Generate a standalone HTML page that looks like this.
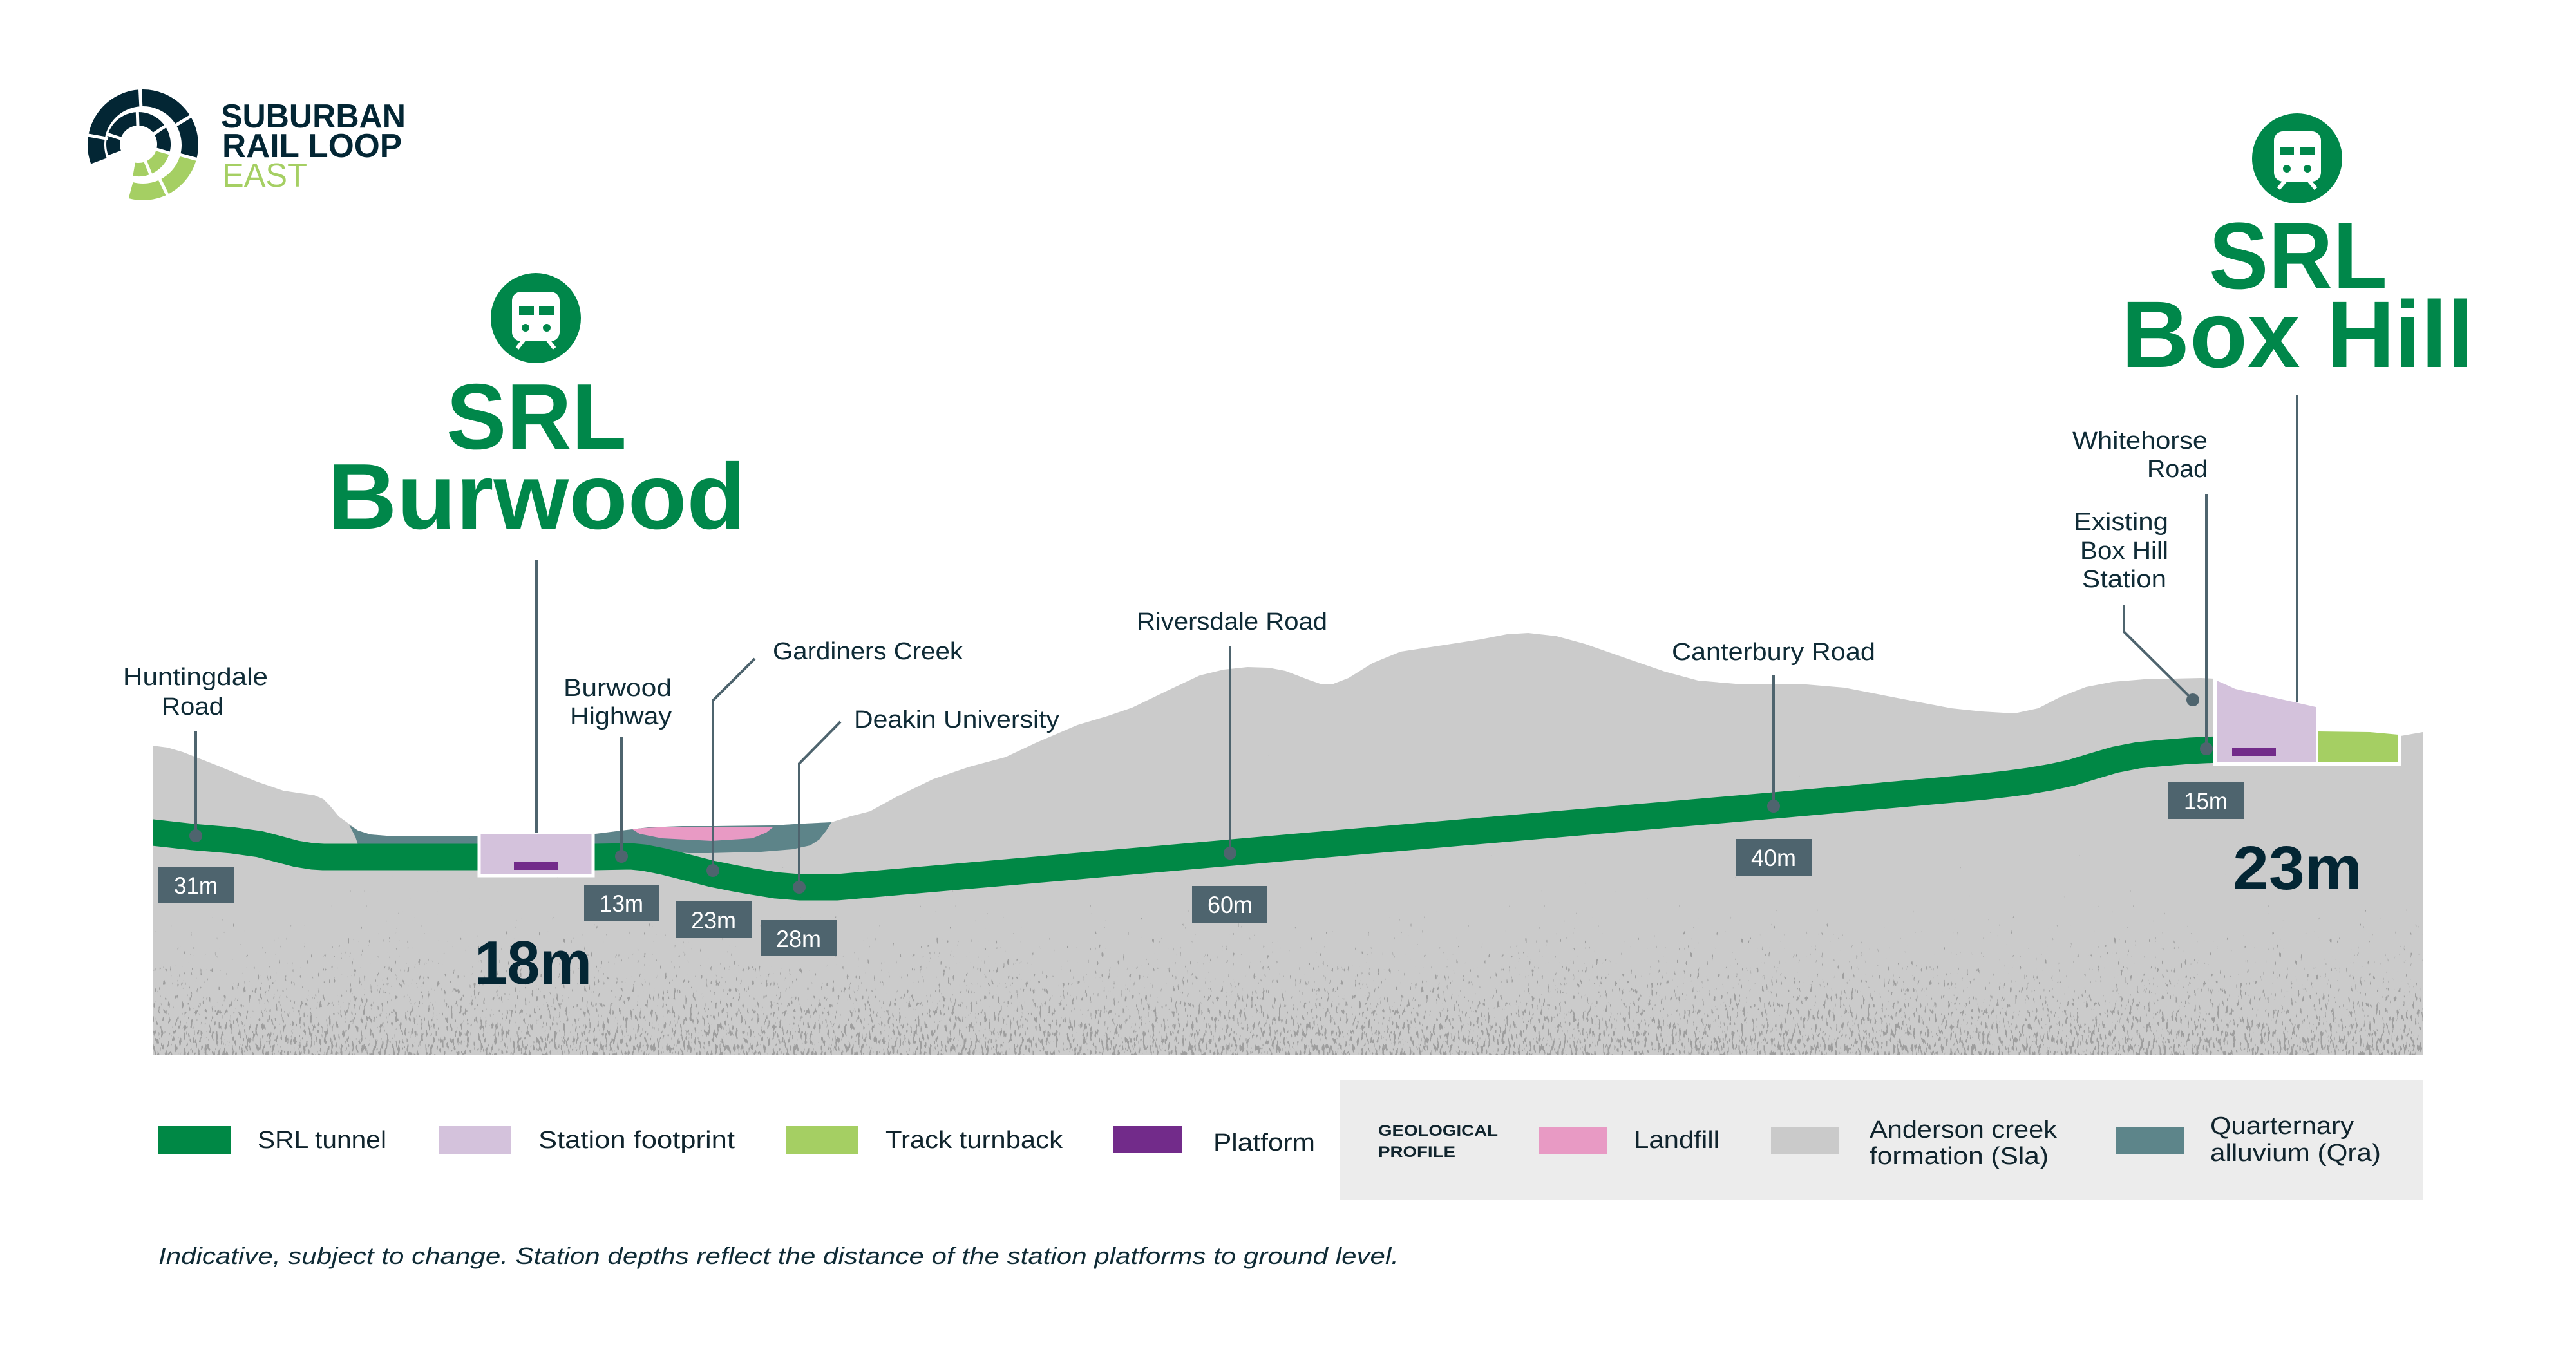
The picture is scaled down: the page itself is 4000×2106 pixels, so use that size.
<!DOCTYPE html>
<html>
<head>
<meta charset="utf-8">
<style>
html,body{margin:0;padding:0;background:#fff;}
svg{display:block;}
</style>
</head>
<body>
<svg width="4000" height="2106" viewBox="0 0 4000 2106" xmlns="http://www.w3.org/2000/svg" font-family="'Liberation Sans', sans-serif">
<defs>
  <clipPath id="terr">
    <path d="M237,1158 L260,1161 L284,1168 L340,1190 L399,1214 L440,1228 L467,1232 L488,1235 L502,1241 L512,1251 L526,1268 L544,1281 L556,1290 L575,1296 L600,1298 L744,1298 L744,1293 L921,1293 L923,1295 L965,1290 L1007,1285 L1060,1283 L1112,1283 L1200,1282 L1250,1279 L1291,1277 L1320,1268 L1351,1260 L1393,1237 L1449,1210 L1505,1191 L1561,1176 L1610,1153 L1673,1126 L1720,1112 L1758,1099 L1814,1072 L1863,1049 L1900,1040 L1937,1036 L1970,1037 L1996,1042 L2030,1055 L2050,1062 L2068,1063 L2094,1053 L2131,1030 L2175,1012 L2241,1002 L2299,993 L2340,985 L2373,983 L2417,988 L2461,1000 L2527,1023 L2585,1043 L2637,1057 L2695,1062 L2805,1063 L2864,1068 L2967,1088 L3030,1100 L3077,1105 L3128,1108 L3165,1100 L3200,1082 L3239,1067 L3280,1059 L3329,1055 L3418,1053 L3438,1054 L3438,1187 L3728,1187 L3728,1143 L3762,1137 L3762,1638 L237,1638 Z"/>
  </clipPath>
  <clipPath id="tunclip"><rect x="237" y="0" width="3201" height="2106"/></clipPath>
  <linearGradient id="sg" x1="0" y1="1340" x2="0" y2="1640" gradientUnits="userSpaceOnUse">
    <stop offset="0" stop-color="#000000"/>
    <stop offset="1" stop-color="#ff0000"/>
  </linearGradient>
  <filter id="spk" filterUnits="userSpaceOnUse" x="237" y="1150" width="3530" height="490" color-interpolation-filters="sRGB">
    <feTurbulence type="fractalNoise" baseFrequency="0.28 0.09" numOctaves="2" seed="7" result="n"/>
    <feColorMatrix in="n" type="matrix" values="1 0 0 0 0  0 0 0 0 0  0 0 0 0 0  0 0 0 0 1" result="nr"/>
    <feComposite in="nr" in2="SourceGraphic" operator="arithmetic" k1="0" k2="1" k3="0.34" k4="0" result="sum"/>
    <feColorMatrix in="sum" type="matrix" values="0 0 0 0 0.62  0 0 0 0 0.62  0 0 0 0 0.62  30 0 0 0 -27"/>
  </filter>
</defs>

<!-- LOGO -->
<g fill="none">
  <path d="M153.4,250 A73,73 0 1 1 292.5,243.9" stroke="#032634" stroke-width="26"/>
  <path d="M292.5,243.9 A73,73 0 0 1 203.1,295.5" stroke="#a5cf63" stroke-width="26"/>
  <path d="M177.9,237.5 A39.5,39.5 0 1 1 253,234.9" stroke="#032634" stroke-width="21"/>
  <path d="M253,234.9 A39.5,39.5 0 0 1 208.1,262.9" stroke="#a5cf63" stroke-width="21"/>
  <g stroke="#ffffff" stroke-width="5">
    <line x1="219.1" y1="170.1" x2="217.2" y2="133.1"/>
    <line x1="269.1" y1="196.7" x2="300.9" y2="177.6"/>
    <line x1="167.8" y1="215.5" x2="131.4" y2="209.0"/>
    <line x1="246.1" y1="274.4" x2="262.3" y2="307.7"/>
    <line x1="275.1" y1="239.2" x2="310.9" y2="248.8"/>
    <line x1="214.1" y1="199.0" x2="213.2" y2="171.0"/>
    <line x1="235.7" y1="210.0" x2="258.9" y2="194.4"/>
    <line x1="191.2" y1="216.3" x2="164.6" y2="207.6"/>
    <line x1="224.4" y1="247.2" x2="234.9" y2="273.1"/>
    <line x1="239.0" y1="230.9" x2="265.9" y2="238.6"/>
  </g>
</g>
<text x="343" y="198" font-size="52" font-weight="bold" fill="#032634" textLength="287" lengthAdjust="spacingAndGlyphs">SUBURBAN</text>
<text x="345" y="244" font-size="52" font-weight="bold" fill="#032634" textLength="279" lengthAdjust="spacingAndGlyphs">RAIL LOOP</text>
<text x="345" y="290" font-size="52" fill="#a5cf63" textLength="132" lengthAdjust="spacingAndGlyphs">EAST</text>

<!-- BURWOOD TITLE -->
<g transform="translate(832,494)">
  <circle r="70" fill="#00874a"/>
  <rect x="-37" y="-41" width="74" height="77" rx="14" fill="#fff"/>
  <rect x="-26" y="-18" width="23" height="13" fill="#00874a"/>
  <rect x="5" y="-18" width="23" height="13" fill="#00874a"/>
  <circle cx="-16" cy="15" r="6" fill="#00874a"/>
  <circle cx="17" cy="15" r="6" fill="#00874a"/>
  <path d="M-18,33 L-29,47 M18,33 L29,47" stroke="#fff" stroke-width="6"/>
</g>
<text x="693" y="697" font-size="145" font-weight="bold" fill="#00874a" textLength="280" lengthAdjust="spacingAndGlyphs">SRL</text>
<text x="508" y="821" font-size="145" font-weight="bold" fill="#00874a" textLength="650" lengthAdjust="spacingAndGlyphs">Burwood</text>

<!-- BOX HILL TITLE -->
<g transform="translate(3567,246)">
  <circle r="70" fill="#00874a"/>
  <rect x="-36" y="-42" width="73" height="78" rx="14" fill="#fff"/>
  <rect x="-27" y="-18" width="22" height="13" fill="#00874a"/>
  <rect x="5" y="-18" width="22" height="13" fill="#00874a"/>
  <circle cx="-16" cy="16" r="6" fill="#00874a"/>
  <circle cx="16" cy="16" r="6" fill="#00874a"/>
  <path d="M-18,34 L-29,47 M18,34 L29,47" stroke="#fff" stroke-width="6"/>
</g>
<text x="3430" y="448" font-size="147" font-weight="bold" fill="#00874a" textLength="277" lengthAdjust="spacingAndGlyphs">SRL</text>
<text x="3294" y="570" font-size="147" font-weight="bold" fill="#00874a" textLength="547" lengthAdjust="spacingAndGlyphs">Box Hill</text>

<!-- TERRAIN -->
<rect x="0" y="900" width="4000" height="800" fill="#cbcbcb" clip-path="url(#terr)"/>
<g clip-path="url(#terr)">
  <rect x="237" y="1150" width="3530" height="490" fill="url(#sg)" filter="url(#spk)"/>
</g>

<!-- Alluvium -->
<path d="M542,1281 L556,1290 L575,1296 L600,1298 L750,1298 L750,1325 L560,1325 L552,1300 Z" fill="#5d8489"/>
<path d="M918,1296 L965,1290 L1007,1285 L1060,1283 L1112,1283 L1200,1282 L1250,1279 L1291,1277 L1283,1290 L1272,1304 L1258,1313 L1231,1319 L1182,1323 L1100,1325 L1070,1325 L1030,1322 L918,1322 Z" fill="#5d8489"/>
<!-- Landfill -->
<path d="M982,1288 L1000,1286 L1042,1284 L1100,1284 L1150,1284 L1200,1285 L1190,1293 L1168,1302 L1105,1306 L1028,1302 L993,1295 Z" fill="#e89ac4"/>

<!-- Tunnel -->
<polyline clip-path="url(#tunclip)" fill="none" stroke="#008845" stroke-width="41" stroke-linejoin="round" points="230,1292 237,1293 300,1300 360,1305 403,1311 430,1318 460,1326 485,1330 502,1331 744,1331 921,1331 979,1330 1000,1332 1030,1338 1070,1348 1105,1357 1140,1364 1168,1369 1205,1375 1241,1378 1300,1378 2050,1312 2754,1251 3077,1222 3120,1217 3150,1213 3185,1207 3217,1200 3250,1190 3284,1180 3320,1173 3351,1170 3400,1166 3445,1164"/>

<!-- Burwood station footprint -->
<rect x="744" y="1293" width="177" height="67" fill="#d4c2dc" stroke="#ffffff" stroke-width="5"/>
<rect x="798" y="1338" width="68" height="13" fill="#722b8a"/>

<!-- Box Hill station -->
<path d="M3437,1040 L3437,1189 L3729,1189 L3729,1135 L3600,1090 L3600,1040 Z" fill="#ffffff"/>
<path d="M3442,1057 L3458,1064 L3471,1070 L3596,1098 L3596,1183 L3442,1183 Z" fill="#d4c2dc"/>
<path d="M3599,1136 L3680,1137 L3724,1141 L3724,1183 L3599,1183 Z" fill="#a5cf63"/>
<rect x="3466" y="1162" width="68" height="12" fill="#722b8a"/>

<!-- Leader lines -->
<g stroke="#4e646e" stroke-width="4" fill="none">
  <line x1="304" y1="1135" x2="304" y2="1298"/>
  <line x1="833" y1="870" x2="833" y2="1293"/>
  <line x1="965" y1="1145" x2="965" y2="1330"/>
  <polyline points="1172,1023 1107,1088 1107,1352"/>
  <polyline points="1305,1121 1241,1186 1241,1378"/>
  <line x1="1910" y1="1003" x2="1910" y2="1325"/>
  <line x1="2754" y1="1048" x2="2754" y2="1252"/>
  <line x1="3426" y1="767" x2="3426" y2="1163"/>
  <polyline points="3298,940 3298,981 3405,1087"/>
  <line x1="3567" y1="614" x2="3567" y2="1091"/>
</g>
<g fill="#4e646e">
  <circle cx="304" cy="1298" r="10"/>
  <circle cx="965" cy="1330" r="10"/>
  <circle cx="1107" cy="1352" r="10"/>
  <circle cx="1241" cy="1378" r="10"/>
  <circle cx="1910" cy="1325" r="10"/>
  <circle cx="2754" cy="1252" r="10"/>
  <circle cx="3426" cy="1163" r="10"/>
  <circle cx="3405" cy="1087" r="10"/>
</g>

<!-- Labels -->
<g fill="#0f2b36" font-size="38">
  <text x="191" y="1064" textLength="225" lengthAdjust="spacingAndGlyphs">Huntingdale</text>
  <text x="251" y="1110" textLength="96" lengthAdjust="spacingAndGlyphs">Road</text>
  <text x="875" y="1081" textLength="168" lengthAdjust="spacingAndGlyphs">Burwood</text>
  <text x="885" y="1125" textLength="158" lengthAdjust="spacingAndGlyphs">Highway</text>
  <text x="1200" y="1024" textLength="295" lengthAdjust="spacingAndGlyphs">Gardiners Creek</text>
  <text x="1326" y="1130" textLength="319" lengthAdjust="spacingAndGlyphs">Deakin University</text>
  <text x="1765" y="978" textLength="296" lengthAdjust="spacingAndGlyphs">Riversdale Road</text>
  <text x="2596" y="1025" textLength="316" lengthAdjust="spacingAndGlyphs">Canterbury Road</text>
  <text x="3218" y="697" textLength="210" lengthAdjust="spacingAndGlyphs">Whitehorse</text>
  <text x="3334" y="741" textLength="94" lengthAdjust="spacingAndGlyphs">Road</text>
  <text x="3220" y="823" textLength="147" lengthAdjust="spacingAndGlyphs">Existing</text>
  <text x="3230" y="868" textLength="137" lengthAdjust="spacingAndGlyphs">Box Hill</text>
  <text x="3233" y="912" textLength="131" lengthAdjust="spacingAndGlyphs">Station</text>
</g>

<!-- Depth boxes -->
<g fill="#4e646e">
  <rect x="245" y="1346" width="118" height="57"/>
  <rect x="907" y="1374" width="117" height="57"/>
  <rect x="1049" y="1400" width="118" height="57"/>
  <rect x="1181" y="1429" width="119" height="56"/>
  <rect x="1851" y="1376" width="117" height="57"/>
  <rect x="2695" y="1303" width="118" height="57"/>
  <rect x="3367" y="1214" width="117" height="58"/>
</g>
<g fill="#ffffff" font-size="37" text-anchor="middle">
  <text x="304" y="1388" textLength="68" lengthAdjust="spacingAndGlyphs">31m</text>
  <text x="965" y="1416" textLength="68" lengthAdjust="spacingAndGlyphs">13m</text>
  <text x="1108" y="1442" textLength="70" lengthAdjust="spacingAndGlyphs">23m</text>
  <text x="1240" y="1471" textLength="70" lengthAdjust="spacingAndGlyphs">28m</text>
  <text x="1910" y="1418" textLength="70" lengthAdjust="spacingAndGlyphs">60m</text>
  <text x="2754" y="1345" textLength="70" lengthAdjust="spacingAndGlyphs">40m</text>
  <text x="3425" y="1257" textLength="68" lengthAdjust="spacingAndGlyphs">15m</text>
</g>

<!-- Station depths -->
<text x="737" y="1528" font-size="96" font-weight="bold" fill="#032634" textLength="182" lengthAdjust="spacingAndGlyphs">18m</text>
<text x="3467" y="1381" font-size="96" font-weight="bold" fill="#032634" textLength="201" lengthAdjust="spacingAndGlyphs">23m</text>

<!-- LEGEND -->
<rect x="246" y="1749" width="112" height="44" fill="#008845"/>
<rect x="681" y="1749" width="112" height="44" fill="#d4c2dc"/>
<rect x="1221" y="1749" width="112" height="44" fill="#a5cf63"/>
<rect x="1729" y="1749" width="106" height="42" fill="#722b8a"/>
<g fill="#10242d" font-size="38">
  <text x="400" y="1783" textLength="200" lengthAdjust="spacingAndGlyphs">SRL tunnel</text>
  <text x="836" y="1783" textLength="305" lengthAdjust="spacingAndGlyphs">Station footprint</text>
  <text x="1375" y="1783" textLength="275" lengthAdjust="spacingAndGlyphs">Track turnback</text>
  <text x="1884" y="1787" textLength="158" lengthAdjust="spacingAndGlyphs">Platform</text>
</g>

<rect x="2080" y="1678" width="1683" height="186" fill="#ececec"/>
<text x="2140" y="1764" font-size="24" font-weight="bold" fill="#10242d" textLength="186" lengthAdjust="spacingAndGlyphs">GEOLOGICAL</text>
<text x="2140" y="1797" font-size="24" font-weight="bold" fill="#10242d" textLength="120" lengthAdjust="spacingAndGlyphs">PROFILE</text>
<rect x="2390" y="1750" width="106" height="42" fill="#e89ac4"/>
<rect x="2750" y="1750" width="106" height="42" fill="#cacaca"/>
<rect x="3285" y="1750" width="106" height="42" fill="#5d858a"/>
<g fill="#10242d" font-size="38">
  <text x="2537" y="1783" textLength="133" lengthAdjust="spacingAndGlyphs">Landfill</text>
  <text x="2903" y="1767" textLength="291" lengthAdjust="spacingAndGlyphs">Anderson creek</text>
  <text x="2903" y="1808" textLength="278" lengthAdjust="spacingAndGlyphs">formation (Sla)</text>
  <text x="3432" y="1761" textLength="223" lengthAdjust="spacingAndGlyphs">Quarternary</text>
  <text x="3432" y="1803" textLength="265" lengthAdjust="spacingAndGlyphs">alluvium (Qra)</text>
</g>

<!-- FOOTER -->
<text x="246" y="1963" font-size="36" font-style="italic" fill="#0f2b36" textLength="1926" lengthAdjust="spacingAndGlyphs">Indicative, subject to change. Station depths reflect the distance of the station platforms to ground level.</text>
</svg>
</body>
</html>
